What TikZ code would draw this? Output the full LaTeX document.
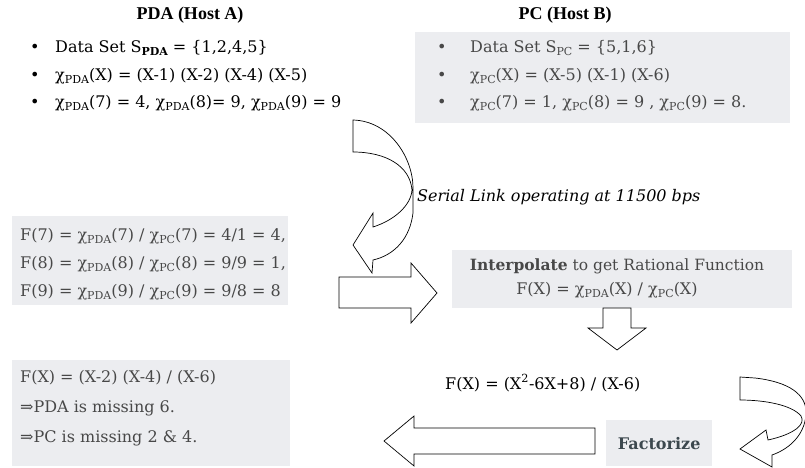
\documentclass[tikz,border=0pt]{standalone}
\usepackage{fontspec}
\setmainfont{DejaVu Serif}
\newfontfamily\titlefont{Liberation Serif}
\definecolor{boxfill}{RGB}{236,237,240}
\definecolor{boxtext}{RGB}{72,72,72}
\definecolor{facttext}{RGB}{60,72,78}
\newcommand{\subt}[1]{\raisebox{-0.45ex}{\fontsize{11}{12}\selectfont #1}}
\newcommand{\chx}[1]{χ\subt{#1}}
\begin{document}
\begin{tikzpicture}[x=1pt,y=-1pt,
  every node/.style={inner sep=0pt},
  body/.style={font=\fontsize{16}{19}\selectfont, anchor=west},
  ttl/.style={font=\titlefont\bfseries\fontsize{18}{21}\selectfont},
  graybox/.style={fill=boxfill, anchor=north west},
  blockarrow/.style={draw=black, line width=0.7pt, fill=white, line join=miter}]
\useasboundingbox (0,0) rectangle (805,468);

% gray boxes
\node[graybox, minimum width=375pt, minimum height=91pt] (pcbox) at (415,32) {};
\node[graybox, minimum width=276pt, minimum height=89pt] (fbox) at (12,216) {};
\node[graybox, minimum width=340pt, minimum height=58pt] (ibox) at (452,250) {};
\node[graybox, minimum width=278pt, minimum height=106pt] (rbox) at (12,360) {};
\node[graybox, minimum width=106pt, minimum height=46pt] (factbox) at (606,420) {};

% titles
\node[ttl] (ta) at (190,15) {PDA (Host A)};
\node[ttl] (tb) at (565,15) {PC (Host B)};

% left list
\node[body] (b1) at (30,48) {•};
\node[body] (b2) at (30,76) {•};
\node[body] (b3) at (30,103) {•};
\node[body] (l1) at (55,48) {Data Set S\subt{\bfseries PDA} = \{1,2,4,5\}};
\node[body] (l2) at (55,76) {\chx{PDA}(X) = (X-1) (X-2) (X-4) (X-5)};
\node[body] (l3) at (55,103) {\chx{PDA}(7) = 4, \chx{PDA}(8)= 9, \chx{PDA}(9) = 9};

% right list
\begin{scope}[every node/.append style={text=boxtext}]
\node[body] (c1) at (437,48) {•};
\node[body] (c2) at (437,76) {•};
\node[body] (c3) at (437,103) {•};
\node[body] (r1) at (470,48) {Data Set S\subt{PC} = \{5,1,6\}};
\node[body] (r2) at (470,76) {\chx{PC}(X) = (X-5) (X-1) (X-6)};
\node[body] (r3) at (470,103) {\chx{PC}(7) = 1, \chx{PC}(8) = 9 , \chx{PC}(9) = 8.};

% F values
\node[body] (f7) at (20,236) {F(7) = \chx{PDA}(7) / \chx{PC}(7) = 4/1 = 4,};
\node[body] (f8) at (20,264) {F(8) = \chx{PDA}(8) / \chx{PC}(8) = 9/9 = 1,};
\node[body] (f9) at (20,292) {F(9) = \chx{PDA}(9) / \chx{PC}(9) = 9/8 = 8};

% interpolate
\node[body, anchor=center, font=\fontsize{15.5}{18}\selectfont] (i1) at (617,266) {\textbf{Interpolate} to get Rational Function};
\node[body, anchor=center] (i2) at (607,290) {F(X) = \chx{PDA}(X) / \chx{PC}(X)};

% result
\node[body] (res1) at (20,378) {F(X) = (X-2) (X-4) / (X-6)};
\node[body] (res2) at (20,408) {⇒PDA is missing 6.};
\node[body] (res3) at (20,438) {⇒PC is missing 2 \& 4.};
\end{scope}

\node[body, anchor=center, text=facttext, font=\bfseries\fontsize{16}{19}\selectfont] (fact) at (factbox.center) {Factorize};

\node[body] (poly) at (445,383) {F(X) = (X\textsuperscript{2}-6X+8) / (X-6)};

\node[body, font=\itshape\fontsize{16}{19}\selectfont] (serial) at (417,197) {Serial Link operating at 11500 bps};

% curved arrow 1 (serial link)
\draw[blockarrow] (353,120) .. controls (390,121) and (413,158) .. (413,188)
  -- (413,213) .. controls (410,238) and (395,255) .. (373,260)
  -- (372,273) -- (353,245) -- (373,213) -- (373,227)
  .. controls (395,220) and (411,205) .. (412,190)
  .. controls (410,166) and (386,152) .. (353,152) -- cycle;

% right block arrow
\draw[blockarrow] (339,277) -- (411,277) -- (411,263) -- (437,293)
  -- (411,323) -- (411,308) -- (339,308) -- cycle;

% down block arrow
\draw[blockarrow] (603,308) -- (631,308) -- (631,328) -- (646,328)
  -- (617,350) -- (588,328) -- (603,328) -- cycle;

% curved arrow 2 (factorize)
\draw[blockarrow] (740,377) -- (755,378) .. controls (790,382) and (806,395) .. (806,412)
  .. controls (806,432) and (792,448) .. (772,455)
  -- (772,467) -- (740,449) -- (766,430) -- (768,440)
  .. controls (795,434) and (806,424) .. (801,416)
  .. controls (792,405) and (765,400) .. (740,400) -- cycle;

% left block arrow
\draw[blockarrow] (595,428) -- (414,428) -- (414,416) -- (384,441)
  -- (414,466) -- (414,454) -- (595,454) -- cycle;
\end{tikzpicture}
\end{document}
